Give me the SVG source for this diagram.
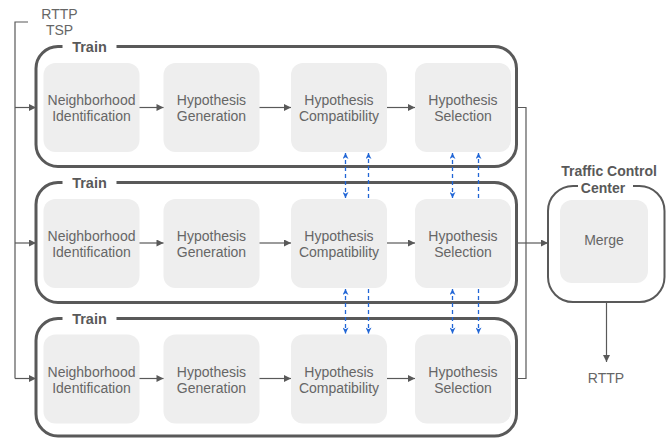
<svg xmlns="http://www.w3.org/2000/svg" width="667" height="438" viewBox="0 0 667 438">
<defs>
<style>
.frame{fill:none;stroke:#595959;stroke-width:3}
.tcc{fill:none;stroke:#595959;stroke-width:2}
.node{fill:#eeeeee}
.lbl{font-family:"Liberation Sans",Arial,sans-serif;font-size:14px;fill:#666;text-anchor:middle}
.ttl{font-family:"Liberation Sans",Arial,sans-serif;font-size:14.5px;font-weight:bold;fill:#595959;text-anchor:middle}
.conn{fill:none;stroke:#595959;stroke-width:1.2}
.dash{fill:none;stroke:#2166d6;stroke-width:1.3;stroke-dasharray:4 3}
</style>
<marker id="ah" viewBox="0 0 10 10" refX="10" refY="5" markerWidth="9" markerHeight="7" markerUnits="userSpaceOnUse" orient="auto-start-reverse"><path d="M0,0 L10,5 L0,10 Z" fill="#595959"/></marker>
<marker id="bh" viewBox="0 0 10 10" refX="10" refY="5" markerWidth="7" markerHeight="6" markerUnits="userSpaceOnUse" orient="auto-start-reverse"><path d="M0,0 L10,5 L0,10 L3,5 Z" fill="#2166d6"/></marker>
</defs>

<g id="train1">
<path class="frame" d="M62.5,46.5 H58 A22,22 0 0 0 36,68.5 V144.5 A22,22 0 0 0 58,166.5 H494.5 A22,22 0 0 0 516.5,144.5 V68.5 A22,22 0 0 0 494.5,46.5 H116.5"/>
<text class="ttl" x="89.5" y="51.5">Train</text>
</g>
<g id="train2">
<path class="frame" d="M62.5,182.5 H58 A22,22 0 0 0 36,204.5 V280.5 A22,22 0 0 0 58,302.5 H494.5 A22,22 0 0 0 516.5,280.5 V204.5 A22,22 0 0 0 494.5,182.5 H116.5"/>
<text class="ttl" x="89.5" y="187.5">Train</text>
</g>
<g id="train3">
<path class="frame" d="M62.5,318.5 H58 A22,22 0 0 0 36,340.5 V414 A22,22 0 0 0 58,436 H494.5 A22,22 0 0 0 516.5,414 V340.5 A22,22 0 0 0 494.5,318.5 H116.5"/>
<text class="ttl" x="89.5" y="323.5">Train</text>
</g>

<g id="n1a"><rect class="node" x="43.5" y="63" width="96" height="89" rx="12"/><text class="lbl" x="91.5" y="105">Neighborhood</text><text class="lbl" x="91.5" y="121">Identification</text></g>
<g id="n1b"><rect class="node" x="163.5" y="63" width="96" height="89" rx="12"/><text class="lbl" x="211.5" y="105">Hypothesis</text><text class="lbl" x="211.5" y="121">Generation</text></g>
<g id="n1c"><rect class="node" x="291" y="63" width="96" height="89" rx="12"/><text class="lbl" x="339" y="105">Hypothesis</text><text class="lbl" x="339" y="121">Compatibility</text></g>
<g id="n1d"><rect class="node" x="415" y="63" width="96" height="89" rx="12"/><text class="lbl" x="463" y="105">Hypothesis</text><text class="lbl" x="463" y="121">Selection</text></g>

<g id="n2a"><rect class="node" x="43.5" y="199" width="96" height="89" rx="12"/><text class="lbl" x="91.5" y="241">Neighborhood</text><text class="lbl" x="91.5" y="257">Identification</text></g>
<g id="n2b"><rect class="node" x="163.5" y="199" width="96" height="89" rx="12"/><text class="lbl" x="211.5" y="241">Hypothesis</text><text class="lbl" x="211.5" y="257">Generation</text></g>
<g id="n2c"><rect class="node" x="291" y="199" width="96" height="89" rx="12"/><text class="lbl" x="339" y="241">Hypothesis</text><text class="lbl" x="339" y="257">Compatibility</text></g>
<g id="n2d"><rect class="node" x="415" y="199" width="96" height="89" rx="12"/><text class="lbl" x="463" y="241">Hypothesis</text><text class="lbl" x="463" y="257">Selection</text></g>

<g id="n3a"><rect class="node" x="43.5" y="334.5" width="96" height="89" rx="12"/><text class="lbl" x="91.5" y="376.5">Neighborhood</text><text class="lbl" x="91.5" y="392.5">Identification</text></g>
<g id="n3b"><rect class="node" x="163.5" y="334.5" width="96" height="89" rx="12"/><text class="lbl" x="211.5" y="376.5">Hypothesis</text><text class="lbl" x="211.5" y="392.5">Generation</text></g>
<g id="n3c"><rect class="node" x="291" y="334.5" width="96" height="89" rx="12"/><text class="lbl" x="339" y="376.5">Hypothesis</text><text class="lbl" x="339" y="392.5">Compatibility</text></g>
<g id="n3d"><rect class="node" x="415" y="334.5" width="96" height="89" rx="12"/><text class="lbl" x="463" y="376.5">Hypothesis</text><text class="lbl" x="463" y="392.5">Selection</text></g>

<g id="tcc">
<path class="tcc" d="M578,186 H573 A25,25 0 0 0 548,211 V277 A25,25 0 0 0 573,302 H639.5 A25,25 0 0 0 664.5,277 V211 A25,25 0 0 0 639.5,186 H633"/>
<text class="ttl" x="609" y="176" style="font-size:14px">Traffic Control</text>
<text class="ttl" x="603" y="193" style="font-size:14px">Center</text>
</g>
<g id="merge"><rect class="node" x="560" y="200" width="88" height="83" rx="12"/><text class="lbl" x="604" y="245">Merge</text></g>

<g id="inputs">
<text class="lbl" x="59.5" y="18.5">RTTP</text>
<text class="lbl" x="59.5" y="35">TSP</text>
</g>
<g id="output"><text class="lbl" x="606" y="383">RTTP</text></g>

<g id="connectors">
<path class="conn" d="M28,22 H15 V378.5"/>
<path class="conn" marker-end="url(#ah)" d="M15,107.5 H36"/>
<path class="conn" marker-end="url(#ah)" d="M15,243 H36"/>
<path class="conn" marker-end="url(#ah)" d="M15,378.5 H36"/>

<path class="conn" marker-end="url(#ah)" d="M139.5,107.5 H163.5"/>
<path class="conn" marker-end="url(#ah)" d="M259.5,107.5 H291"/>
<path class="conn" marker-end="url(#ah)" d="M387,107.5 H415"/>
<path class="conn" marker-end="url(#ah)" d="M139.5,243 H163.5"/>
<path class="conn" marker-end="url(#ah)" d="M259.5,243 H291"/>
<path class="conn" marker-end="url(#ah)" d="M387,243 H415"/>
<path class="conn" marker-end="url(#ah)" d="M139.5,378.5 H163.5"/>
<path class="conn" marker-end="url(#ah)" d="M259.5,378.5 H291"/>
<path class="conn" marker-end="url(#ah)" d="M387,378.5 H415"/>

<path class="conn" d="M517,107.5 H526 V378.5 H517"/>
<path class="conn" marker-end="url(#ah)" d="M517,243 H548"/>
<path class="conn" marker-end="url(#ah)" d="M606.5,302 V362"/>

<path class="dash" marker-start="url(#bh)" marker-end="url(#bh)" d="M345.5,153 V198"/>
<path class="dash" marker-end="url(#bh)" d="M368.5,198 V153"/>
<path class="dash" marker-start="url(#bh)" marker-end="url(#bh)" d="M452.5,153 V198"/>
<path class="dash" marker-end="url(#bh)" d="M478.5,198 V153"/>

<path class="dash" marker-start="url(#bh)" marker-end="url(#bh)" d="M345.5,289 V333.5"/>
<path class="dash" marker-end="url(#bh)" d="M368.5,289 V333.5"/>
<path class="dash" marker-start="url(#bh)" marker-end="url(#bh)" d="M452.5,289 V333.5"/>
<path class="dash" marker-end="url(#bh)" d="M478.5,289 V333.5"/>
</g>
</svg>
